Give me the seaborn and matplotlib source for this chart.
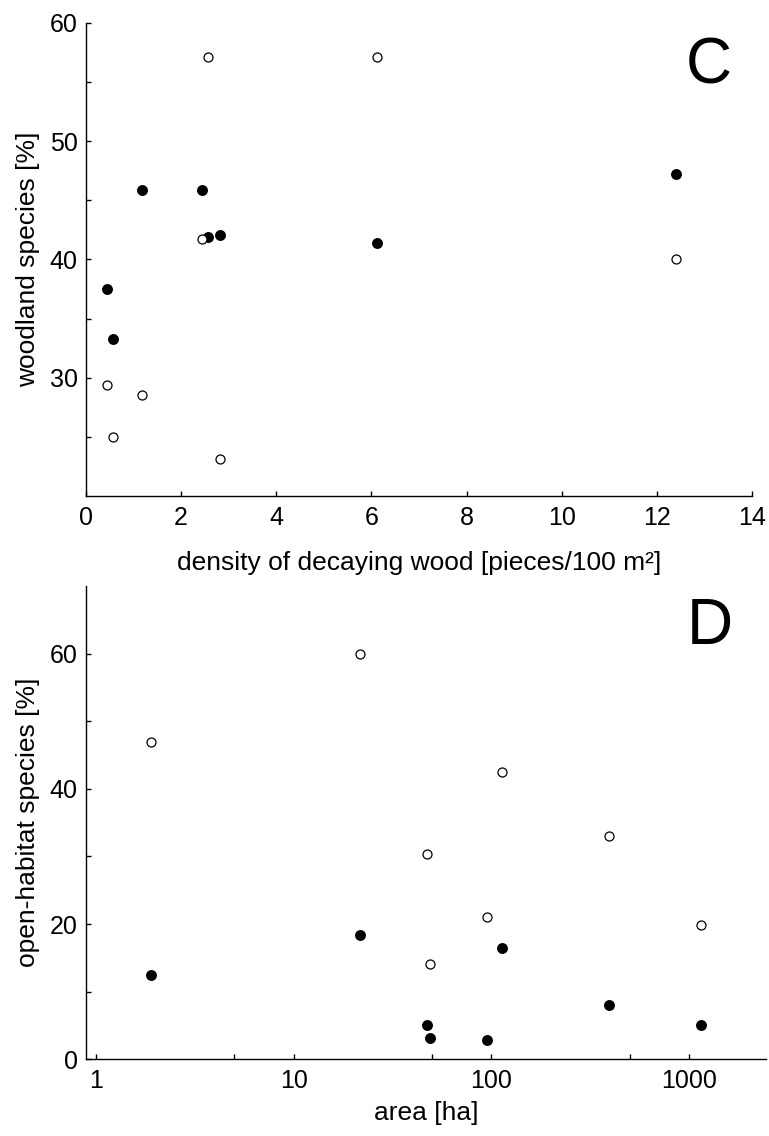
import numpy as np
import pandas as pd
import seaborn as sns
import matplotlib.pyplot as plt
from matplotlib.ticker import FixedLocator, NullFormatter, FixedFormatter


# Panel C: decaying wood density vs woodland species
wood_density = [0.45, 0.56, 1.18, 2.44, 2.56, 2.82, 6.11, 12.41]
woodland_filled = [37.5, 33.3, 45.9, 45.9, 41.9, 42.1, 41.4, 47.2]
woodland_open = [29.4, 25.0, 28.5, 41.7, 57.1, 23.1, 57.1, 40.0]

# Panel D: area vs open-habitat species
area_ha = [1.89, 21.7, 47.2, 48.7, 94.6, 113, 395, 1143]
open_filled = [12.4, 18.4, 5.0, 3.1, 2.8, 16.4, 8.0, 5.1]
open_open = [46.9, 59.9, 30.3, 14.1, 21.1, 42.5, 33.0, 19.9]

df_c = pd.DataFrame({"x": wood_density, "filled": woodland_filled, "open": woodland_open})
df_d = pd.DataFrame({"x": area_ha, "filled": open_filled, "open": open_open})

sns.set_style("ticks")
plt.rcParams["font.family"] = ["Liberation Sans", "DejaVu Sans"]
plt.rcParams["xtick.direction"] = "in"
plt.rcParams["ytick.direction"] = "in"
plt.rcParams["axes.linewidth"] = 1.0
for key in ["text.color", "axes.labelcolor", "xtick.color", "ytick.color",
            "axes.edgecolor", "xtick.labelcolor", "ytick.labelcolor"]:
    plt.rcParams[key] = "black"

fig = plt.figure(figsize=(7.69, 11.36), dpi=100)
ax1 = fig.add_axes([86 / 769, 1 - 496 / 1136, 666 / 769, 473 / 1136])
ax2 = fig.add_axes([86 / 769, 1 - 1059.3 / 1136, 680 / 769, 473.3 / 1136])


def draw_points(ax, df):
    sns.scatterplot(data=df, x="x", y="filled", color="black", s=62,
                    linewidth=0, ax=ax, zorder=3)
    sns.scatterplot(data=df, x="x", y="open", color="white", edgecolor="black",
                    s=42, linewidth=0.9, ax=ax, zorder=3)


#=========
# PANEL C
#=========
draw_points(ax1, df_c)
ax1.set_xlim(0, 14)
ax1.set_ylim(20, 60)
ax1.set_xticks([0, 2, 4, 6, 8, 10, 12, 14])
ax1.set_yticks([30, 40, 50, 60])
ax1.yaxis.set_minor_locator(FixedLocator([25, 35, 45, 55]))
ax1.set_xlabel("density of decaying wood [pieces/100 m²]", fontsize=19, labelpad=15)
ax1.set_ylabel("woodland species [%]", fontsize=19, labelpad=7)

#=========
# PANEL D
#=========
draw_points(ax2, df_d)
ax2.set_xscale("log")
ax2.set_xlim(0.89, 2450)
ax2.set_ylim(0, 70)
ax2.xaxis.set_major_locator(FixedLocator([1, 10, 100, 1000]))
ax2.xaxis.set_major_formatter(FixedFormatter(["1", "10", "100", "1000"]))
ax2.xaxis.set_minor_locator(FixedLocator([5, 50, 500]))
ax2.xaxis.set_minor_formatter(NullFormatter())
ax2.set_yticks([0, 20, 40, 60])
ax2.yaxis.set_minor_locator(FixedLocator([10, 30, 50]))
ax2.set_xlabel("area [ha]", fontsize=19, labelpad=6)
ax2.set_ylabel("open-habitat species [%]", fontsize=19, labelpad=7)

for ax in (ax1, ax2):
    sns.despine(ax=ax)
    ax.tick_params(which="both", labelsize=18, length=3.5, width=1, pad=7)
    ax.tick_params(axis="y", which="both", pad=6)

fig.text(709 / 769, 1 - 66 / 1136, "C", fontsize=46, ha="center", va="center")
fig.text(710 / 769, 1 - 627 / 1136, "D", fontsize=46, ha="center", va="center")

fig.savefig("out.png", dpi=100)
